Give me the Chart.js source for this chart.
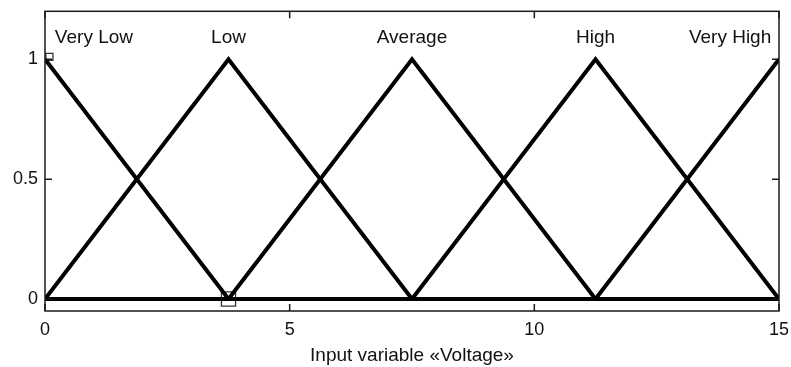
<!DOCTYPE html>
<html>
<head>
<meta charset="utf-8">
<script src="https://cdn.jsdelivr.net/npm/chart.js@4/dist/chart.umd.min.js"></script>
<style>
  html, body { margin: 0; padding: 0; background: #fff; }
  #wrap { width: 791px; height: 367px; }
</style>
</head>
<body>
<div id="wrap"><canvas id="mf"></canvas></div>
<script>
// Breakpoints of the triangular membership functions on the voltage axis
const breakpoints = [0, 3.75, 7.5, 11.25, 15];
const termNames = ["Very Low", "Low", "Average", "High", "Very High"];

// membership degree of each term at every breakpoint
const veryLow  = [1, 0, 0, 0, 0];
const low      = [0, 1, 0, 0, 0];
const average  = [0, 0, 1, 0, 0];
const high     = [0, 0, 0, 1, 0];
const veryHigh = [0, 0, 0, 0, 1];

const xTicks = [0, 5, 10, 15];
const yTicks = [0, 0.5, 1];

// where each term name sits (x in volts, y in membership units)
const labelX = [1.0, 3.75, 7.5, 11.25, 14.0];
const labelY = 1.066;

// the two small square markers left on the plot
const markerX = [0.09, 3.75];
const markerY = [1.01, 0];

const FONT = "'Liberation Sans', Arial, sans-serif";
Chart.defaults.font.family = FONT;
Chart.defaults.color = "#111";

const mfSets = [veryLow, low, average, high, veryHigh];

const mfDatasets = mfSets.map((vals, i) => ({
  label: termNames[i],
  data: breakpoints.map((bx, j) => ({ x: bx, y: vals[j] })),
  borderColor: "#000",
  borderWidth: 4,
  borderJoinStyle: "miter",
  pointRadius: 0,
  tension: 0,
  fill: false,
  order: 1
}));

const markerDataset = {
  label: "markers",
  data: markerX.map((mx, i) => ({ x: mx, y: markerY[i] })),
  showLine: false,
  pointStyle: "rect",
  pointRadius: [5, 10],
  pointBorderWidth: 1.3,
  pointBorderColor: "#333",
  pointBackgroundColor: "rgba(255,255,255,0)",
  clip: false,
  order: 2
};

// box frame, inward tick marks and the term names
const framePlugin = {
  id: "frame",
  afterDatasetsDraw(chart) {
    const { ctx, chartArea: a, scales: { x, y } } = chart;
    ctx.save();
    ctx.strokeStyle = "#1a1a1a";
    ctx.lineWidth = 1.5;
    ctx.strokeRect(a.left, a.top, a.right - a.left, a.bottom - a.top);

    const tl = 7;
    ctx.beginPath();
    yTicks.forEach(v => {
      const py = y.getPixelForValue(v);
      ctx.moveTo(a.left, py);  ctx.lineTo(a.left + tl, py);
      ctx.moveTo(a.right, py); ctx.lineTo(a.right - tl, py);
    });
    xTicks.forEach(v => {
      const px = x.getPixelForValue(v);
      ctx.moveTo(px, a.bottom); ctx.lineTo(px, a.bottom - tl);
      ctx.moveTo(px, a.top);    ctx.lineTo(px, a.top + tl);
    });
    ctx.stroke();

    ctx.fillStyle = "#111";
    ctx.font = "19px " + FONT;
    ctx.textAlign = "center";
    ctx.textBaseline = "alphabetic";
    termNames.forEach((t, i) => {
      ctx.fillText(t, x.getPixelForValue(labelX[i]), y.getPixelForValue(labelY));
    });
    ctx.restore();
  }
};

new Chart(document.getElementById("mf"), {
  type: "line",
  data: { datasets: [...mfDatasets, markerDataset] },
  options: {
    responsive: true,
    maintainAspectRatio: false,
    devicePixelRatio: 1,
    animation: false,
    events: [],
    layout: { padding: { top: 10, right: 12, left: 0, bottom: 0 } },
    plugins: { legend: { display: false }, tooltip: { enabled: false } },
    scales: {
      x: {
        type: "linear",
        min: 0,
        max: 15,
        grid: { display: false, drawTicks: false },
        border: { display: false },
        afterBuildTicks: s => { s.ticks = xTicks.map(v => ({ value: v })); },
        afterFit: s => { s.height = 56; s.paddingLeft = 0; s.paddingRight = 0; },
        ticks: { font: { size: 18 }, color: "#111", padding: 8, maxRotation: 0 },
        title: {
          display: true,
          text: "Input variable «Voltage»",
          font: { size: 19 },
          color: "#111",
          padding: { top: 0, bottom: 0 }
        }
      },
      y: {
        type: "linear",
        min: -0.05,
        max: 1.2,
        grid: { display: false, drawTicks: false },
        border: { display: false },
        afterBuildTicks: s => { s.ticks = yTicks.map(v => ({ value: v })); },
        afterFit: s => { s.width = 45; s.paddingTop = 0; s.paddingBottom = 0; },
        ticks: {
          font: { size: 18 },
          color: "#111",
          padding: 7,
          callback: v => String(v)
        }
      }
    }
  },
  plugins: [framePlugin]
});
</script>
</body>
</html>
